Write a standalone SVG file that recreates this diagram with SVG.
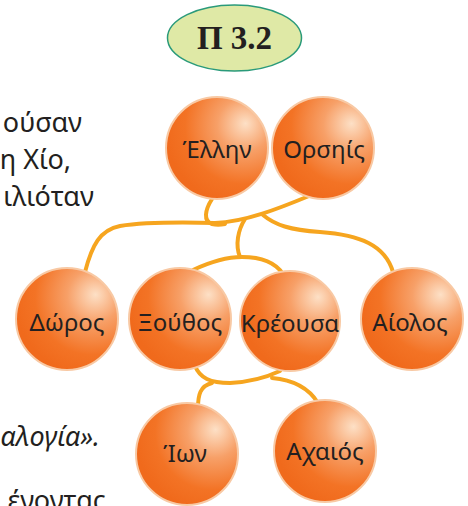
<svg xmlns="http://www.w3.org/2000/svg" width="468" height="506" viewBox="0 0 468 506">
<style>
.txt{font-family:"Noto Sans","DejaVu Sans",sans-serif;font-size:27px;fill:#231f20}
.lbl{font-family:"Noto Sans","DejaVu Sans",sans-serif;font-size:24px;fill:#231f20;text-anchor:middle}
.ball{fill:url(#g);stroke:#f8c9a4;stroke-width:2}
.con{fill:none;stroke:#f6a51f;stroke-width:4;stroke-linecap:round}
</style>
<defs>
<radialGradient id="g" cx="0.74" cy="0.3" r="0.75" fx="0.78" fy="0.26">
<stop offset="0" stop-color="#fde0c6"/>
<stop offset="0.35" stop-color="#f7a068"/>
<stop offset="0.75" stop-color="#f37325"/>
<stop offset="1" stop-color="#f06a1c"/>
</radialGradient>
</defs>
<rect width="468" height="506" fill="#ffffff"/>
<g id="title">
<ellipse cx="234.5" cy="38" rx="67" ry="33" fill="#dfe9a6" stroke="#2a9a7a" stroke-width="1.5"/>
<text x="234.5" y="49" font-family="Liberation Serif,serif" font-weight="bold" font-size="33" fill="#231f20" text-anchor="middle">Π 3.2</text>
</g>
<g id="side-text">
<text class="txt" x="82" y="132" text-anchor="end">ούσαν</text>
<text class="txt" x="71" y="169" text-anchor="end">η Χίο,</text>
<text class="txt" x="94" y="206" text-anchor="end">ιλιόταν</text>
<text class="txt" x="100" y="446" text-anchor="end" font-style="italic">αλογία».</text>
<text class="txt" x="106" y="510" text-anchor="end">ένοντας</text>
</g>
<g id="connectors">
<path class="con" d="M309,196 C 280,208 245,222 215,223 C 175,222 145,222 120,226 C 100,230 92,245 85,272"/>
<path class="con" d="M212,199 C 205,210 203,221 212,224 C 216,225 220,225 225,224"/>
<path class="con" d="M263,215 C 275,225 290,230 320,232 C 360,235 385,245 393,272"/>
<path class="con" d="M245,219 C 238,230 235,245 240,257"/>
<path class="con" d="M193,270 C 210,262 225,257 242,257 C 262,257 275,262 283,274"/>
<path class="con" d="M195,366 C 200,378 210,383 230,383 C 250,382 265,378 280,371"/>
<path class="con" d="M212,383 C 200,386 198,395 198,408"/>
<path class="con" d="M272,378 C 295,380 310,390 318,403"/>
</g>
<g id="n-ellin"><circle class="ball" cx="217" cy="148" r="51"/><text class="lbl" x="217" y="158">Έλλην</text></g>
<g id="n-orsiis"><circle class="ball" cx="323" cy="148" r="51"/><text class="lbl" x="324" y="158">Ορσηίς</text></g>
<g id="n-doros"><circle class="ball" cx="67" cy="319" r="51"/><text class="lbl" x="67" y="331">Δώρος</text></g>
<g id="n-xouthos"><circle class="ball" cx="180" cy="319" r="51"/><text class="lbl" x="180" y="331">Ξούθος</text></g>
<g id="n-kreousa"><circle class="ball" cx="290" cy="321" r="50"/><text class="lbl" x="290" y="332">Κρέουσα</text></g>
<g id="n-aiolos"><circle class="ball" cx="412" cy="319" r="51"/><text class="lbl" x="410" y="331">Αίολος</text></g>
<g id="n-ion"><circle class="ball" cx="187" cy="454" r="51"/><text class="lbl" x="185" y="462">Ίων</text></g>
<g id="n-achaios"><circle class="ball" cx="325" cy="451" r="51"/><text class="lbl" x="325" y="460">Αχαιός</text></g>
</svg>
